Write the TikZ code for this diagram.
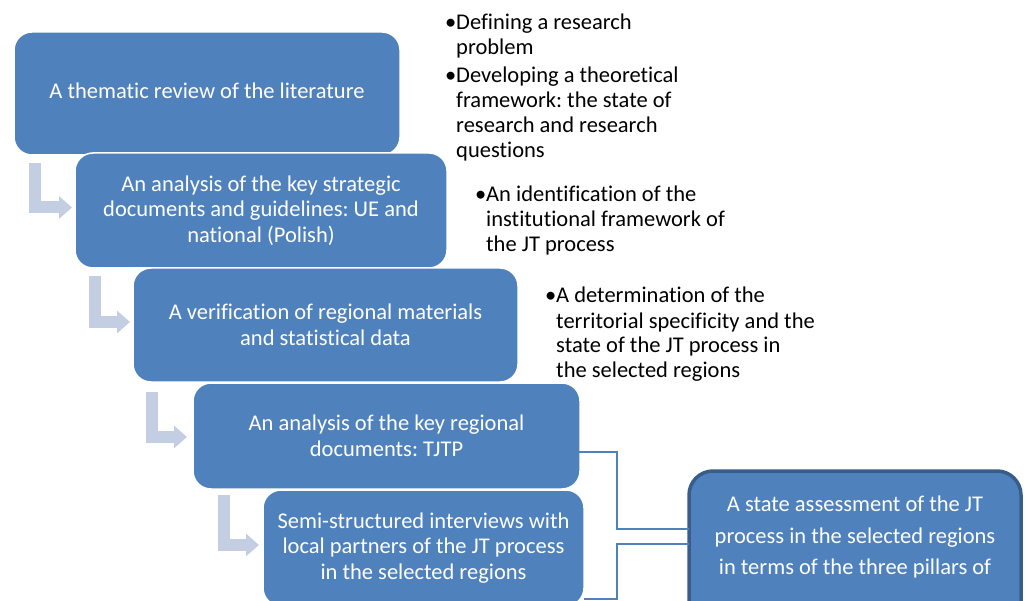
\documentclass[tikz,border=0pt]{standalone}
\usepackage{fontspec}
\setmainfont{Carlito}[Ligatures={NoCommon}]
\usetikzlibrary{arrows.meta}
\definecolor{stepblue}{HTML}{4F81BD}
\definecolor{stepedge}{HTML}{385D8A}
\definecolor{bendgrey}{RGB}{195,206,226}
\frenchspacing

\begin{document}
\begin{tikzpicture}[x=1pt,y=-1pt,
  stepbox/.style={rectangle, rounded corners=18pt, fill=stepblue, draw=white,
    line width=1.5pt, text=white, align=center, inner sep=0pt, outer sep=0pt,
    anchor=north west, font=\fontsize{22.5}{25.5}\selectfont},
  finalbox/.style={stepbox, rounded corners=24pt, draw=stepedge, line width=3.5pt,
    font=\fontsize{22.5}{31.5}\selectfont},
  notes/.style={inner sep=0pt, outer sep=0pt, anchor=base west, text=black,
    font=\fontsize{22.5}{25}\selectfont},
  bendarrow/.style={draw=bendgrey, line width=12pt,
    -{Triangle[width=22pt,length=13pt]}},
  link/.style={draw=stepblue, line width=1.5pt}
]
\useasboundingbox (0,0) rectangle (1030,601);
\clip (0,0) rectangle (1030,601);

% process steps, each one overlapping the previous
\node[stepbox, minimum width=386pt, minimum height=123pt, text depth=5pt] (b1) at (14,32)
  {A thematic review of the literature};
\node[stepbox, minimum width=372pt, minimum height=115pt] (b2) at (75,153)
  {An analysis of the key strategic\\documents and guidelines: UE and\\national (Polish)};
\node[stepbox, minimum width=385pt, minimum height=114pt] (b3) at (133,268)
  {A verification of regional materials\\and statistical data};
\node[stepbox, minimum width=387pt, minimum height=106pt] (b4) at (193,383)
  {An analysis of the key regional\\documents: TJTP};
\node[stepbox, minimum width=321pt, minimum height=116pt] (b5) at (263,490)
  {Semi-structured interviews with\\local partners of the JT process\\in the selected regions};

% outcome box
\node[finalbox, minimum width=332pt, inner ysep=25pt, text depth=100pt] (b6) at (689,471)
  {A state assessment of the JT\\process in the selected regions\\in terms of the three pillars of};

% bent arrows between the steps
\draw[bendarrow] ([xshift=21pt, yshift=-8pt]b1.south west) |- ([xshift=-3pt, yshift=3pt]b2.west);
\draw[bendarrow] ([xshift=20pt, yshift=-8pt]b2.south west) |- ([xshift=-3pt, yshift=3pt]b3.west);
\draw[bendarrow] ([xshift=19pt, yshift=-10pt]b3.south west) |- ([xshift=-6pt, yshift=-1pt]b4.west);
\draw[bendarrow] ([xshift=31pt, yshift=-6pt]b4.south west) |- ([xshift=-4pt, yshift=3pt]b5.west);

% bullet notes
\node[notes] (n1) at (445,30) {\begin{tabular}[t]{@{}l@{}l@{}}
  •&Defining a research\\ &problem\\[3pt]
  •&Developing a theoretical\\ &framework: the state of\\ &research and research\\ &questions
  \end{tabular}};
\node[notes] (n2) at (475,202) {\begin{tabular}[t]{@{}l@{}l@{}}
  •&An identification of the\\ &institutional framework of\\ &the JT process
  \end{tabular}};
\node[notes] (n3) at (545,303) {\begin{tabular}[t]{@{}l@{}l@{}}
  •&A determination of the\\ &territorial specificity and the\\ &state of the JT process in\\ &the selected regions
  \end{tabular}};

% connectors into the outcome box
\coordinate (tap) at (543,452);
\coordinate (busa) at (617,529);
\coordinate (busb) at (617,544);
\coordinate (low) at (617,599);
\draw[link] (tap) -| (busa) -- (busa -| b6.west);
\draw[link] (busb -| b6.west) -- (busb) -- (low) -- (low -| b5.east);
\end{tikzpicture}
\end{document}
